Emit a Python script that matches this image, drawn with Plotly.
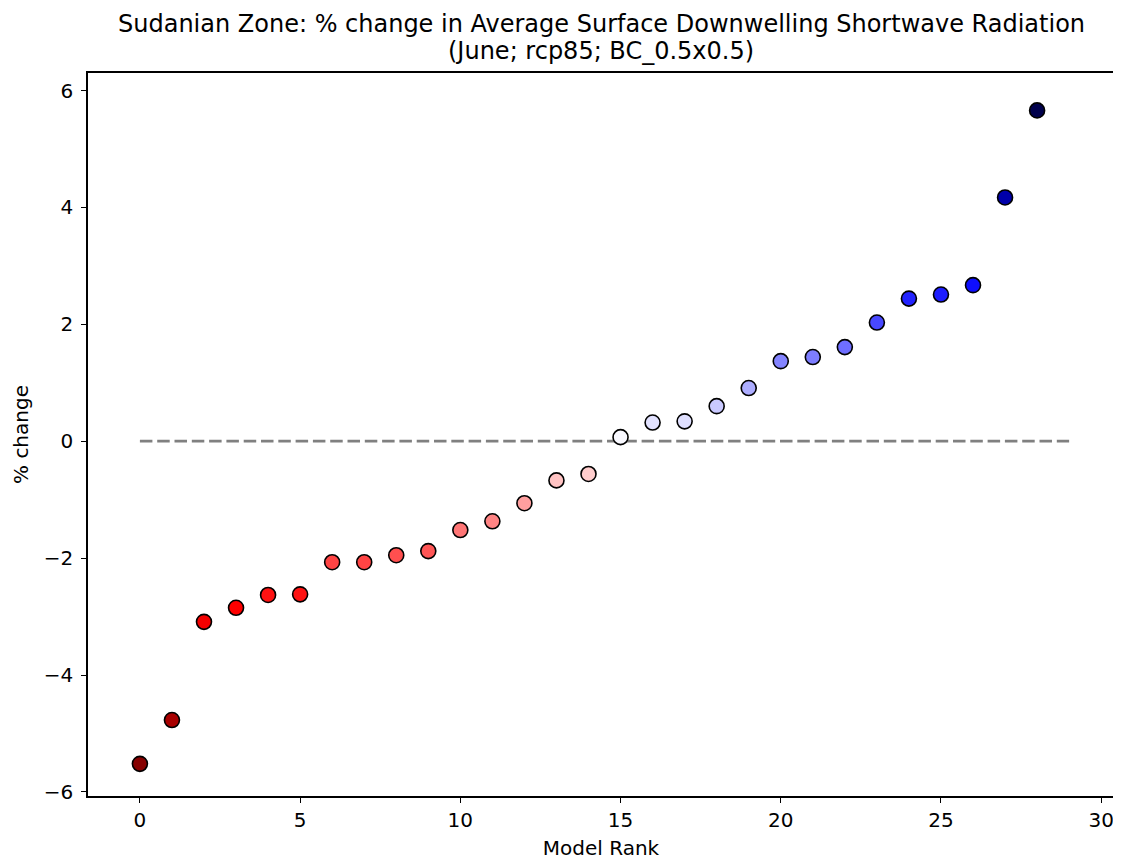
import plotly.graph_objects as go

ranks = list(range(29))
pct_change = [-5.52, -4.77, -3.09, -2.85, -2.63, -2.62, -2.07, -2.07, -1.95, -1.88,
              -1.52, -1.37, -1.06, -0.67, -0.56, 0.07, 0.32, 0.34, 0.60, 0.91,
              1.37, 1.44, 1.61, 2.03, 2.44, 2.51, 2.67, 4.17, 5.66]
x_ticks = [0, 5, 10, 15, 20, 25, 30]
y_ticks = [-6, -4, -2, 0, 2, 4, 6]
y_ticktext = ["\u22126", "\u22124", "\u22122", "0", "2", "4", "6"]
zero_line_x = [0, 29]
zero_line_y = [0, 0]
title_line1 = "Sudanian Zone: % change in Average Surface Downwelling Shortwave Radiation"
title_line2 = "(June; rcp85; BC_0.5x0.5)"

# seismic_r colormap (matplotlib), centered at 0
seis = [(0.0, 0.0, 0.3), (0.0, 0.0, 1.0), (1.0, 1.0, 1.0), (1.0, 0.0, 0.0), (0.5, 0.0, 0.0)]
vmax = max(abs(v) for v in pct_change)

def color_for(v):
    t = 0.5 + v / (2 * vmax)
    s = 1 - t  # reversed
    s = min(max(s, 0.0), 1.0)
    pos = s * 4
    i = min(int(pos), 3)
    f = pos - i
    c = [seis[i][k] + (seis[i + 1][k] - seis[i][k]) * f for k in range(3)]
    return "rgb({},{},{})".format(*[round(255 * x) for x in c])

colors = [color_for(v) for v in pct_change]

font = "DejaVu Sans"
fig = go.Figure()
fig.add_trace(go.Scatter(x=zero_line_x, y=zero_line_y, mode="lines",
                         line=dict(color="gray", width=2.8, dash="12.5px,4.8px"),
                         hoverinfo="skip", showlegend=False))
fig.add_trace(go.Scatter(x=ranks, y=pct_change, mode="markers",
                         marker=dict(size=15, color=colors, line=dict(color="black", width=1.6)),
                         showlegend=False))

fig.add_annotation(text=title_line1, xref="paper", yref="paper", x=0.5, y=1.068,
                   xanchor="center", yanchor="middle", showarrow=False,
                   font=dict(family=font, size=24, color="black"))
fig.add_annotation(text=title_line2, xref="paper", yref="paper", x=0.5, y=1.031,
                   xanchor="center", yanchor="middle", showarrow=False,
                   font=dict(family=font, size=24, color="black"))

fig.update_layout(
    width=1113, height=853,
    margin=dict(l=80, r=5, t=65, b=65),
    plot_bgcolor="white", paper_bgcolor="white",
    font=dict(family=font, size=20, color="black"),
    xaxis=dict(range=[-1.62, 30.4], tickvals=x_ticks, showgrid=False, zeroline=False,
               showline=True, linecolor="black", linewidth=1.5, mirror=True,
               ticks="outside", ticklen=5, tickwidth=1.3, tickcolor="black",
               tickfont=dict(size=20),
               title=dict(text="Model Rank", font=dict(size=20), standoff=10)),
    yaxis=dict(range=[-6.07, 6.3], tickvals=y_ticks, ticktext=y_ticktext,
               showgrid=False, zeroline=False,
               showline=True, linecolor="black", linewidth=1.5, mirror=True,
               ticks="outside", ticklen=5, tickwidth=1.3, tickcolor="black",
               tickfont=dict(size=20), ticklabelstandoff=4,
               title=dict(text="% change", font=dict(size=20), standoff=10)),
)
fig.write_html("out.html")
